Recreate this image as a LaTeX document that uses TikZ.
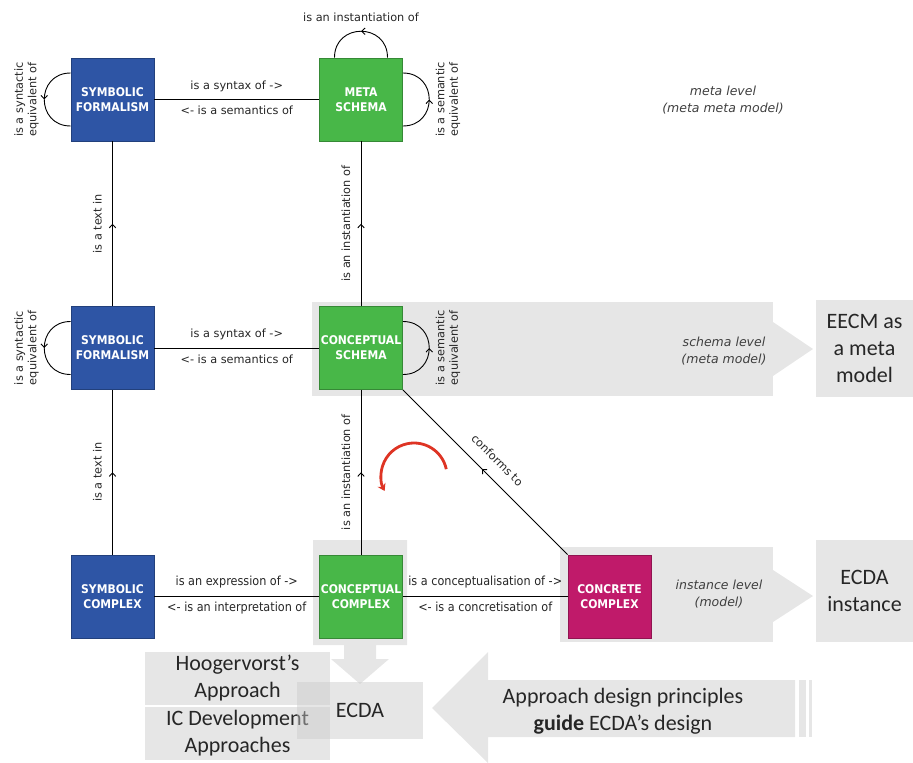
\documentclass[tikz,border=0pt]{standalone}
\usepackage{fontspec}
\setmainfont{Carlito}
\newfontfamily\labelfont{DejaVu Sans}
\newfontfamily\condfont{DejaVu Sans Condensed}
\usetikzlibrary{arrows.meta}
\usetikzlibrary{decorations.markings}
\definecolor{symblue}{RGB}{46,85,165}
\definecolor{congreen}{RGB}{72,183,72}
\definecolor{crtpink}{RGB}{192,26,106}
\definecolor{bandgrey}{RGB}{200,200,200}
\definecolor{turnred}{RGB}{222,52,36}
\tikzstyle{concept} = [draw, rectangle, line width=0.8pt, 
    minimum width=83pt, minimum height=83pt, inner sep=0pt, align=center,
    text=white, font=\condfont\bfseries\fontsize{12}{15}\selectfont]
\tikzstyle{symbolic} = [concept, fill=symblue, draw=symblue!75!black]
\tikzstyle{conceptual} = [concept, fill=congreen, draw=congreen!75!black]
\tikzstyle{concrete} = [concept, fill=crtpink, draw=crtpink!75!black]
\tikzstyle{rel} = [font=\labelfont\fontsize{11.3}{13.5}\selectfont, text=black!85]
\tikzstyle{relc} = [font=\condfont\fontsize{12.5}{14}\selectfont, text=black!85]
\tikzstyle{link} = [draw, line width=0.9pt]
\tikzstyle{midarrow} = [link, postaction={decorate},
    decoration={markings, mark=at position 0.5 with {\arrow{>}}}]
\tikzstyle{backarrow} = [link, postaction={decorate},
    decoration={markings, mark=at position 0.5 with {\arrow{<}}}]
\tikzstyle{band} = [fill=bandgrey, fill opacity=0.45]
\tikzstyle{textbox} = [band, rectangle, text opacity=1, align=center,
    inner sep=0pt, text=black!85, font=\fontsize{22}{27}\selectfont]
\tikzstyle{levelnote} = [font=\labelfont\itshape\fontsize{12.5}{16.5}\selectfont,
    align=center, text=black!75]
\tikzstyle{turnarrow} = [draw=turnred, line width=2.8pt,
    -{Stealth[length=7pt,width=9pt]}]

\begin{document}
\begin{tikzpicture}[x=1pt, y=1pt, node distance=248.5pt,
    >={Straight Barb[length=3.5pt,width=6.5pt]}]
    \useasboundingbox (0,0) rectangle (913,-763);
    % Grey level bands and arrows go underneath everything
    \fill[band] (312,-302) rectangle (773,-396);
    \fill[band] (773,-322) -- (813,-349) -- (773,-376) -- cycle;
    \fill[band] (560,-547) rectangle (773,-642);
    \fill[band] (773,-570) -- (813,-596) -- (773,-622) -- cycle;
    \fill[band] (313,-540) -- (407,-540) -- (407,-645) -- (376,-645)
        -- (376,-659) -- (389,-659) -- (360,-684) -- (331,-659)
        -- (344,-659) -- (344,-645) -- (313,-645) -- cycle;
    \fill[band] (432,-708) -- (488,-652) -- (488,-680) -- (795,-680)
        -- (795,-737) -- (488,-737) -- (488,-763) -- cycle;
    \fill[band] (799,-680) rectangle (806,-737);
    \fill[band] (809,-680) rectangle (812,-737);

    % The seven concept blocks
    \node [symbolic] at (112.5,-99.5) (symTop) {SYMBOLIC\\FORMALISM};
    \node [conceptual, right of=symTop] (metaSchema) {META\\SCHEMA};
    \node [symbolic, below of=symTop] (symMid) {SYMBOLIC\\FORMALISM};
    \node [conceptual, right of=symMid] (conSchema) {CONCEPTUAL\\SCHEMA};
    \node [symbolic, below of=symMid] (symCpx) {SYMBOLIC\\COMPLEX};
    \node [conceptual, right of=symCpx] (conCpx) {CONCEPTUAL\\COMPLEX};
    \node [concrete, right of=conCpx] (crtCpx) {CONCRETE\\COMPLEX};

    % Text boxes
    \node [textbox, minimum width=97pt, minimum height=97pt] at (864.5,-348.5)
        (eecm) {EECM as\\a meta\\model};
    \node [textbox, minimum width=97pt, minimum height=102pt] at (864.5,-591)
        (ecdaInst) {ECDA\\instance};
    \node [textbox, minimum width=185pt, minimum height=53pt] at (237.5,-678.5)
        (hoog) {Hoogervorst’s\\Approach};
    \node [textbox, minimum width=185pt, minimum height=53pt] at (237.5,-733.5)
        (icDev) {IC Development\\Approaches};
    \node [textbox, minimum width=126pt, minimum height=57pt] at (360,-710.5)
        (ecda) {ECDA};
    \node [textbox, fill=none] at (623,-711) (guide)
        {Approach design principles\\\textbf{guide} ECDA’s design};

    % Level notes
    \node [levelnote] at (723,-100) (metaLevel) {meta level\\(meta meta model)};
    \node [levelnote] at (724,-351) (schemaLevel) {schema level\\(meta model)};
    \node [levelnote] at (719,-594) (instLevel) {instance level\\(model)};

    % Horizontal relations
    \draw [link] (symTop) -- node[rel, above=4pt] {is a syntax of ->}
        node[rel, below=3pt] {<- is a semantics of} (metaSchema);
    \draw [link] (symMid) -- node[rel, above=4pt] {is a syntax of ->}
        node[rel, below=3pt] {<- is a semantics of} (conSchema);
    \draw [link] (symCpx) -- node[relc, above=5pt] {is an expression of ->}
        node[relc, below=2pt] {<- is an interpretation of} (conCpx);
    \draw [link] (conCpx) -- node[relc, above=5pt] {is a conceptualisation of ->}
        node[relc, below=2pt] {<- is a concretisation of} (crtCpx);

    % Vertical relations
    \draw [midarrow] (symMid) -- node[rel, sloped, above=7pt] {is a text in} (symTop);
    \draw [midarrow] (symCpx) -- node[rel, sloped, above=7pt] {is a text in} (symMid);
    \draw [midarrow] (conSchema) -- node[rel, sloped, above=7pt]
        {is an instantiation of} (metaSchema);
    \draw [midarrow] (conCpx) -- node[rel, sloped, above=7pt]
        {is an instantiation of} (conSchema);
    \draw [backarrow] (conSchema.south east) -- node[rel, sloped, above=9pt]
        {conforms to} (crtCpx.north west);

    % Self loops
    \draw [midarrow] ([yshift=26.5pt]symTop.west) to[out=180, in=180, looseness=1.7]
        node[rel, rotate=90, anchor=south, align=center, inner sep=5pt]
        {is a syntactic\\equivalent of} ([yshift=-26.5pt]symTop.west);
    \draw [midarrow] ([yshift=26.5pt]symMid.west) to[out=180, in=180, looseness=1.7]
        node[rel, rotate=90, anchor=south, align=center, inner sep=5pt]
        {is a syntactic\\equivalent of} ([yshift=-26.5pt]symMid.west);
    \draw [midarrow] ([yshift=-26.5pt]metaSchema.east) to[out=0, in=0, looseness=1.7]
        node[rel, rotate=90, anchor=north, align=center, inner sep=6pt]
        {is a semantic\\equivalent of} ([yshift=26.5pt]metaSchema.east);
    \draw [midarrow] ([yshift=-26.5pt]conSchema.east) to[out=0, in=0, looseness=1.7]
        node[rel, rotate=90, anchor=north, align=center, inner sep=6pt]
        {is a semantic\\equivalent of} ([yshift=26.5pt]conSchema.east);
    \draw [midarrow] ([xshift=26.5pt]metaSchema.north) to[out=90, in=90, looseness=1.7]
        node[rel, above=6pt] {is an instantiation of} ([xshift=-26.5pt]metaSchema.north);

    % Red turn arrow
    \coordinate (turn) at (414,-476);
    \draw [turnarrow] ([shift={(12:33pt)}]turn) arc[start angle=12, end angle=207, radius=33pt];
\end{tikzpicture}
\end{document}
